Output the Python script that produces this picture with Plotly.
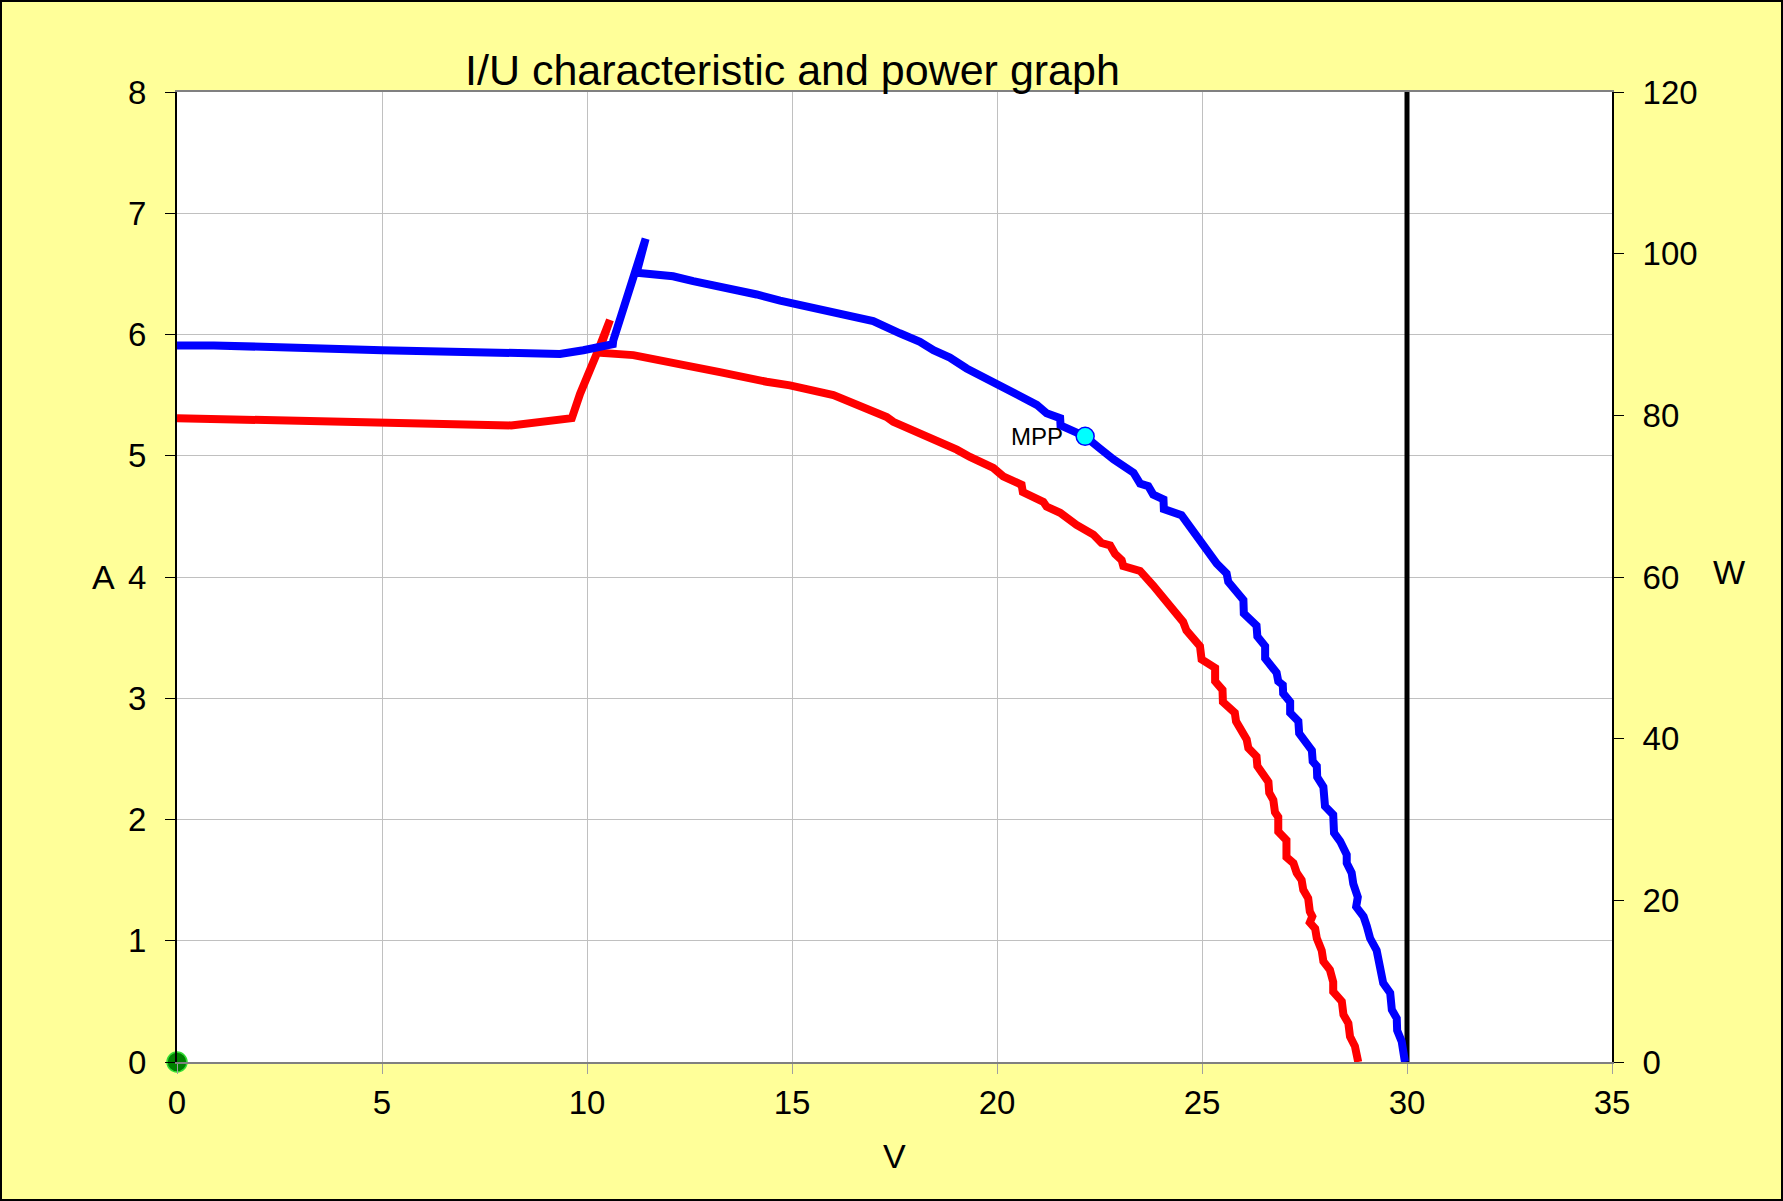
import plotly.graph_objects as go

# ---- data ----
blue_v = [0, 0.9, 5, 7.88, 9.34, 9.91, 10.63, 10.64, 11.21, 11.43, 11.21, 12.10, 12.59, 13.49, 14.14,
          14.71, 15.20, 15.85, 16.98, 17.63, 18.12, 18.45, 18.85, 19.26, 19.91, 20.48, 20.72, 20.97,
          21.21, 21.54, 21.55, 22.15, 22.51, 22.84, 23.33, 23.49, 23.69, 23.81, 24.06, 24.07, 24.50,
          24.79, 25.03, 25.36, 25.60, 25.64, 26.01, 26.02, 26.33, 26.35, 26.54, 26.54, 26.82, 26.86,
          26.97, 26.98, 27.15, 27.15, 27.35, 27.37, 27.68, 27.70, 27.80, 27.81, 27.96, 28.0, 28.20,
          28.22, 28.37, 28.53, 28.53, 28.65, 28.69, 28.80, 28.76, 28.94, 29.02, 29.10, 29.26, 29.30,
          29.38, 29.42, 29.59, 29.63, 29.75, 29.76, 29.87, 29.95]
blue_a = [5.91, 5.91, 5.87, 5.85, 5.84, 5.87, 5.92, 5.95, 6.52, 6.79, 6.51, 6.48, 6.44, 6.38, 6.33,
          6.28, 6.24, 6.20, 6.11, 6.01, 5.94, 5.87, 5.81, 5.72, 5.61, 5.51, 5.46, 5.42,
          5.35, 5.31, 5.25, 5.16, 5.06, 4.97, 4.86, 4.77, 4.75, 4.68, 4.64, 4.56, 4.51,
          4.37, 4.28, 4.11, 4.03, 3.96, 3.81, 3.70, 3.60, 3.51, 3.43, 3.33, 3.21, 3.14,
          3.11, 3.04, 2.97, 2.88, 2.81, 2.71, 2.57, 2.48, 2.44, 2.35, 2.27, 2.11, 2.04,
          1.89, 1.82, 1.71, 1.64, 1.56, 1.47, 1.36, 1.28, 1.20, 1.12, 1.02, 0.92, 0.83,
          0.73, 0.65, 0.57, 0.43, 0.36, 0.26, 0.17, 0.0]

red_v = [0, 8.15, 9.63, 9.83, 10.26, 10.56, 10.28, 11.13, 11.78, 12.59, 13.24, 14.38, 14.95, 16.01,
         16.50, 16.90, 17.31, 17.47, 17.96, 18.29, 19.02, 19.34, 19.91, 20.15, 20.60, 20.63, 21.13,
         21.21, 21.54, 21.94, 22.35, 22.55, 22.76, 22.88, 23.04, 23.08, 23.49, 23.81, 24.14, 24.54,
         24.62, 24.95, 24.99, 25.32, 25.32, 25.50, 25.51, 25.80, 25.83, 25.93, 26.09, 26.13, 26.33,
         26.35, 26.62, 26.64, 26.74, 26.78, 26.86, 26.86, 27.06, 27.06, 27.23, 27.31, 27.43, 27.47,
         27.59, 27.63, 27.69, 27.63, 27.76, 27.80, 27.92, 27.96, 28.12, 28.20, 28.20, 28.41, 28.45,
         28.57, 28.61, 28.73, 28.81]
red_a = [5.31, 5.25, 5.31, 5.51, 5.86, 6.12, 5.85, 5.83, 5.79, 5.74, 5.69, 5.61, 5.58, 5.50,
         5.43, 5.39, 5.32, 5.28, 5.21, 5.16, 5.05, 4.99, 4.90, 4.83, 4.76, 4.70, 4.62,
         4.58, 4.53, 4.43, 4.35, 4.28, 4.26, 4.19, 4.14, 4.09, 4.05, 3.93, 3.80, 3.63,
         3.56, 3.43, 3.32, 3.25, 3.14, 3.07, 2.97, 2.88, 2.81, 2.74, 2.66, 2.59, 2.52,
         2.44, 2.31, 2.22, 2.16, 2.06, 2.02, 1.90, 1.83, 1.69, 1.64, 1.56, 1.50, 1.42,
         1.35, 1.24, 1.20, 1.15, 1.10, 1.02, 0.92, 0.83, 0.76, 0.66, 0.58, 0.50, 0.39,
         0.32, 0.21, 0.13, 0.0]

mpp_v = [22.15]
mpp_a = [5.16]
origin_v = [0]
origin_a = [0]
voc_v = [30, 30]
voc_a = [0, 8]

x_ticks = [0, 5, 10, 15, 20, 25, 30, 35]
y_ticks = [0, 1, 2, 3, 4, 5, 6, 7, 8]
y2_ticks = [0, 20, 40, 60, 80, 100, 120]

title_text = "I/U characteristic and power graph"

# ---- layout geometry ----
W, H = 1783, 1201
ML, MR, MT, MB = 177, 171, 92, 139
PW = W - ML - MR
PH = H - MT - MB
FONT = "Liberation Sans, Arial, sans-serif"
TICK = 33

fig = go.Figure()

fig.add_trace(go.Scatter(x=voc_v, y=voc_a, mode="lines",
                         line=dict(color="black", width=5), hoverinfo="skip", showlegend=False))
fig.add_trace(go.Scatter(x=red_v, y=red_a, mode="lines",
                         line=dict(color="#FF0000", width=8, shape="linear"), showlegend=False))
fig.add_trace(go.Scatter(x=blue_v, y=blue_a, mode="lines",
                         line=dict(color="#0000FF", width=8, shape="linear"), showlegend=False))
fig.add_trace(go.Scatter(x=mpp_v, y=mpp_a, mode="markers",
                         marker=dict(size=18, color="#00FFFF", line=dict(color="#0000FF", width=1.5)),
                         showlegend=False, cliponaxis=False))
fig.add_trace(go.Scatter(x=origin_v, y=origin_a, mode="markers",
                         marker=dict(size=20, color="#008000", line=dict(color="#33DD33", width=1.5)),
                         showlegend=False, cliponaxis=False))
# dummy trace to activate right axis
fig.add_trace(go.Scatter(x=[0], y=[0], yaxis="y2", mode="markers",
                         marker=dict(opacity=0), hoverinfo="skip", showlegend=False))

fig.update_layout(
    width=W, height=H,
    margin=dict(l=ML, r=MR, t=MT, b=MB, pad=0),
    paper_bgcolor="#FFFF99",
    plot_bgcolor="white",
    font=dict(family=FONT, size=TICK, color="black"),
    showlegend=False,
    xaxis=dict(range=[0, 35], tickvals=x_ticks, ticktext=[str(v) for v in x_ticks],
               showgrid=True, gridcolor="#C0C0C0", gridwidth=1, zeroline=False,
               showline=True, linecolor="#808080", linewidth=2, mirror=True,
               ticks="outside", ticklen=10, tickcolor="#A0A0A0", tickwidth=1,
               tickfont=dict(size=TICK, family=FONT), ticklabelstandoff=0),
    yaxis=dict(range=[0, 8], tickvals=y_ticks, ticktext=[str(v) for v in y_ticks],
               showgrid=True, gridcolor="#C0C0C0", gridwidth=1, zeroline=False,
               showline=True, linecolor="black", linewidth=2,
               ticks="outside", ticklen=10, tickcolor="black", tickwidth=1,
               tickfont=dict(size=TICK, family=FONT), ticklabelstandoff=12),
    yaxis2=dict(range=[0, 120], tickvals=y2_ticks, ticktext=[str(v) for v in y2_ticks],
                overlaying="y", side="right", showgrid=False, zeroline=False,
                showline=True, linecolor="black", linewidth=2,
                ticks="outside", ticklen=10, tickcolor="black", tickwidth=1,
                tickfont=dict(size=TICK, family=FONT), ticklabelstandoff=12),
)

annos = [
    dict(text=title_text, xref="paper", yref="paper", x=(792.5 - ML) / PW, y=(H - MB - 70) / PH,
         xanchor="center", yanchor="middle", showarrow=False, font=dict(size=43, family=FONT)),
    dict(text="A", xref="paper", yref="paper", x=(103 - ML) / PW, y=0.5,
         xanchor="center", yanchor="middle", showarrow=False, font=dict(size=34, family=FONT)),
    dict(text="W", xref="paper", yref="paper", x=(1729 - ML) / PW, y=(H - MB - 572) / PH,
         xanchor="center", yanchor="middle", showarrow=False, font=dict(size=34, family=FONT)),
    dict(text="V", xref="paper", yref="paper", x=0.5, y=(H - MB - 1156) / PH,
         xanchor="center", yanchor="middle", showarrow=False, font=dict(size=34, family=FONT)),
    dict(text="MPP", xref="x", yref="y", x=mpp_v[0], y=mpp_a[0], xshift=-20,
         xanchor="right", yanchor="middle", showarrow=False, font=dict(size=24, family=FONT)),
]
fig.update_layout(annotations=annos)

# outer black frame around the whole figure
fig.add_shape(type="rect", xref="paper", yref="paper",
              x0=(1 - ML) / PW, x1=(W - 1 - ML) / PW,
              y0=(H - MB - (H - 1)) / PH, y1=(H - MB - 1) / PH,
              line=dict(color="black", width=2), fillcolor="rgba(0,0,0,0)", layer="above")

fig.write_html("out.html")
